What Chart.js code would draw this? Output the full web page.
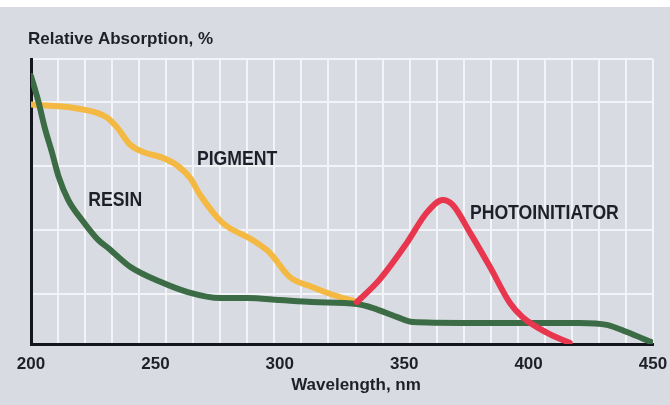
<!DOCTYPE html>
<html>
<head>
<meta charset="utf-8">
<title>Relative Absorption</title>
<script src="https://cdn.jsdelivr.net/npm/chart.js@4.4.1/dist/chart.umd.min.js"></script>
<style>
    body { margin: 0; background: #ffffff; }
    #wrap { width: 670px; height: 405px; }
</style>
</head>
<body>
<div id="wrap"><canvas id="absChart" width="670" height="405"></canvas></div>
<script>
// series names as printed on the curves
const seriesNames = ['RESIN', 'PIGMENT', 'PHOTOINITIATOR'];

// wavelength (nm) / relative absorption (%)
const resinNm = [200, 203, 205.5, 208.5, 211, 215, 220.5, 227, 231, 240, 252, 263, 276, 287, 300, 313, 331, 337.5, 347, 353.5, 373.5, 392.5, 420.5, 431.5, 439.5, 450];
const resinAbs = [94, 85, 76, 67, 59, 50.5, 43.5, 36.5, 33.7, 27, 21.8, 18.2, 16.1, 16.1, 15.4, 14.7, 14, 12.6, 9.5, 7.7, 7.4, 7.4, 7.4, 6.7, 4.2, 0.4];

const pigmentNm = [200, 217.5, 230.5, 234.5, 240, 245, 253, 258.5, 264, 268, 277, 289, 296, 304, 313, 321.5, 330];
const pigmentAbs = [84, 82.8, 79.5, 76.1, 69.8, 67.4, 65.3, 62.8, 58.2, 52.3, 42.5, 36.5, 32, 23.5, 20, 17.2, 15];

const photoNm = [331, 340, 351, 359, 365.5, 369.5, 376.5, 384.5, 392.5, 397.5, 407.5, 416.5];
const photoAbs = [14.7, 22.5, 35.4, 46, 50.5, 48.8, 39, 27, 14.4, 9.5, 3.9, 0.4];

// axis ticks
const xTickLabels = [200, 250, 300, 350, 400, 450];
const yGridLines = [0, 17.5, 40, 62.5, 85, 100];
const xGridCount = 23;

const toPoints = (xs, ys) => xs.map((v, i) => ({ x: v, y: ys[i] }));

// condensed look: draw with a horizontal squeeze
function squeezedText(ctx, text, x, y, sx) {
    ctx.save();
    ctx.translate(x, y);
    ctx.scale(sx, 1);
    ctx.fillText(text, 0, 0);
    ctx.restore();
}

const backgroundAndText = {
    id: 'backgroundAndText',
    beforeDraw(chart) {
        const ctx = chart.ctx;
        ctx.save();
        ctx.fillStyle = '#d9dbe2';
        ctx.fillRect(0, 0, chart.width, chart.height);
        ctx.fillStyle = '#ffffff';
        ctx.fillRect(0, 0, chart.width, 7);
        ctx.restore();
    },
    afterDatasetsDraw(chart) {
        const ctx = chart.ctx;
        const x = chart.scales.x, y = chart.scales.y;
        ctx.save();
        ctx.fillStyle = '#1e1f29';
        ctx.textBaseline = 'middle';
        ctx.font = 'bold 17px "Liberation Sans", Arial, sans-serif';
        ctx.textAlign = 'left';
        ctx.fillText('Relative Absorption, %', 28, 39);
        ctx.textAlign = 'center';
        ctx.fillText('Wavelength, nm', 356, 385);

        ctx.font = 'bold 21px "Liberation Sans", Arial, sans-serif';
        ctx.textAlign = 'left';
        squeezedText(ctx, seriesNames[0], x.getPixelForValue(223), y.getPixelForValue(50.5), 0.84);
        squeezedText(ctx, seriesNames[1], x.getPixelForValue(266.7), y.getPixelForValue(65), 0.84);
        squeezedText(ctx, seriesNames[2], x.getPixelForValue(376.4), y.getPixelForValue(46), 0.84);
        ctx.restore();
    }
};

const lineStyle = {
    borderWidth: 6,
    pointRadius: 0,
    fill: false,
    cubicInterpolationMode: 'monotone',
    borderCapStyle: 'round',
    borderJoinStyle: 'round'
};

new Chart(document.getElementById('absChart').getContext('2d'), {
    type: 'line',
    data: {
        datasets: [
            { label: seriesNames[2], data: toPoints(photoNm, photoAbs), borderColor: '#e8364e', order: 0, ...lineStyle },
            { label: seriesNames[0], data: toPoints(resinNm, resinAbs), borderColor: '#3c6c45', order: 1, ...lineStyle },
            { label: seriesNames[1], data: toPoints(pigmentNm, pigmentAbs), borderColor: '#f4b942', order: 2, ...lineStyle }
        ]
    },
    options: {
        responsive: false,
        animation: false,
        layout: { padding: { left: 31, right: 17, top: 59, bottom: 0 } },
        plugins: {
            legend: { display: false },
            tooltip: { enabled: false },
            title: { display: false }
        },
        scales: {
            x: {
                type: 'linear',
                min: 200,
                max: 450,
                position: 'bottom',
                afterBuildTicks: axis => { axis.ticks = xTickLabels.map(v => ({ value: v })); },
                afterFit: axis => {
                    axis.height = 61;
                    axis.paddingLeft = 0;
                    axis.paddingRight = 0;
                },
                grid: { display: false, drawTicks: false },
                border: { display: true, color: '#15161c', width: 3 },
                ticks: {
                    color: '#1e1f29',
                    padding: 10,
                    maxRotation: 0,
                    font: { family: '"Liberation Sans", Arial, sans-serif', size: 17, weight: 'bold' }
                }
            },
            xg: {
                type: 'linear',
                min: 0,
                max: xGridCount,
                position: 'bottom',
                afterBuildTicks: axis => {
                    axis.ticks = Array.from({ length: xGridCount + 1 }, (_, i) => ({ value: i }));
                },
                afterFit: axis => { axis.height = 0; },
                grid: { color: '#f3f4f7', lineWidth: 2, drawTicks: false },
                border: { display: false },
                ticks: { display: false }
            },
            y: {
                type: 'linear',
                min: 0,
                max: 100,
                afterBuildTicks: axis => { axis.ticks = yGridLines.map(v => ({ value: v })); },
                afterFit: axis => { axis.width = 0; },
                grid: { color: '#f3f4f7', lineWidth: 2, drawTicks: false },
                border: { display: true, color: '#15161c', width: 3 },
                ticks: { display: false }
            }
        }
    },
    plugins: [backgroundAndText]
});
</script>
</body>
</html>
